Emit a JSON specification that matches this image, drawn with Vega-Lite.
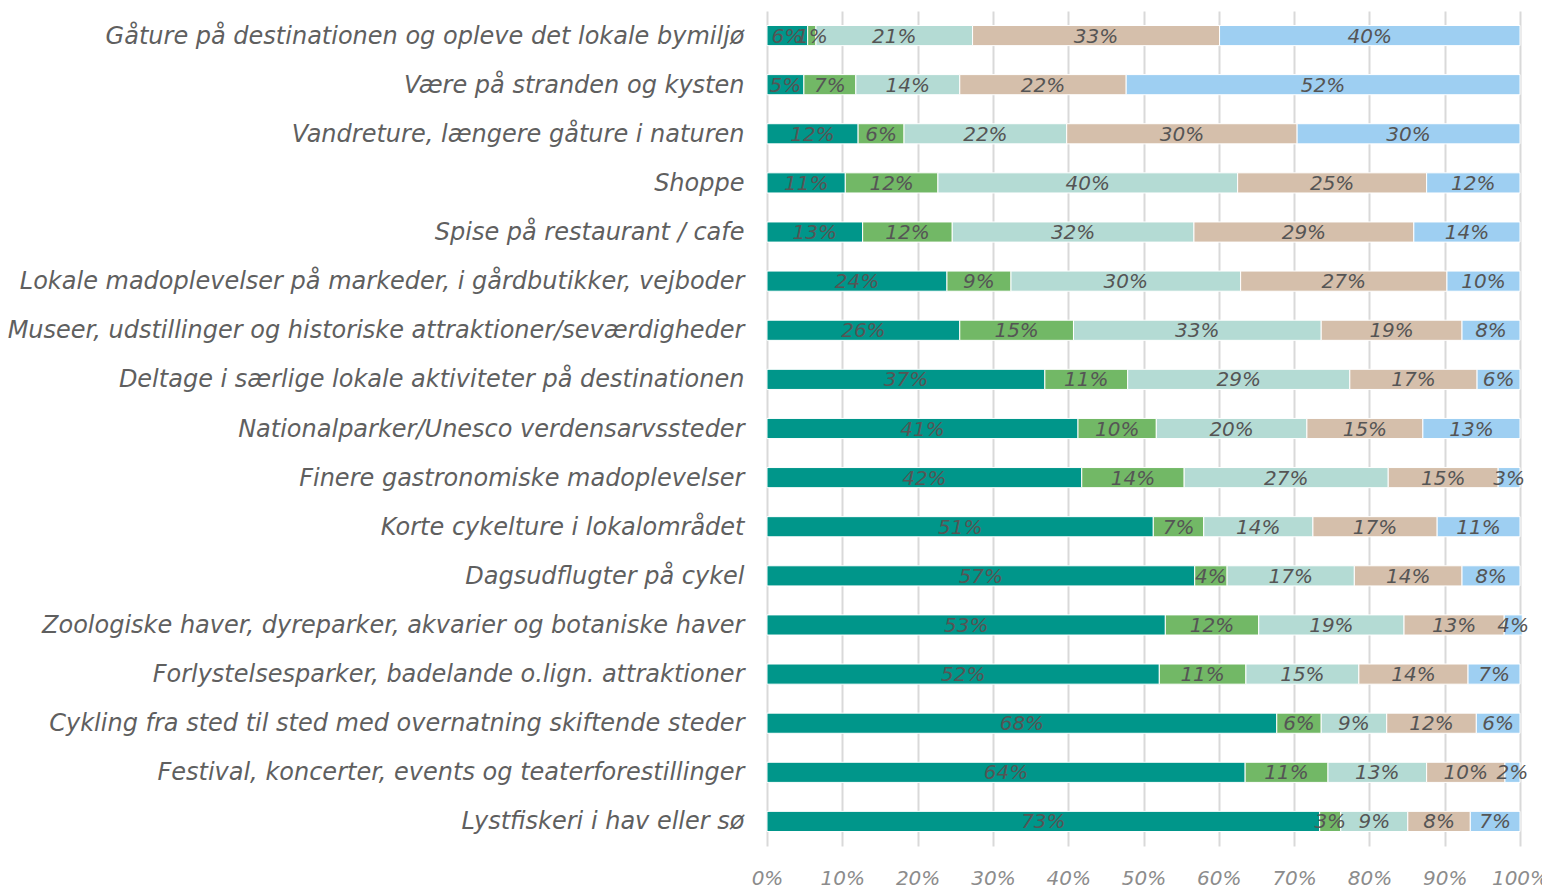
{
  "$schema": "https://vega.github.io/schema/vega-lite/v6.json",
  "autosize": "none",
  "width": 753,
  "height": 835,
  "padding": {"left": 767, "top": 11, "right": 22, "bottom": 42},
  "background": "#ffffff",
  "config": {"view": {"stroke": null}, "font": "DejaVu Sans"},
  "data": {"values": [
    {"a":"Gåture på destinationen og opleve det lokale bymiljø","c":"1","v":5.4,"l":"6%"},
    {"a":"Gåture på destinationen og opleve det lokale bymiljø","c":"2","v":1.1,"l":"1%"},
    {"a":"Gåture på destinationen og opleve det lokale bymiljø","c":"3","v":20.8,"l":"21%"},
    {"a":"Gåture på destinationen og opleve det lokale bymiljø","c":"4","v":32.8,"l":"33%"},
    {"a":"Gåture på destinationen og opleve det lokale bymiljø","c":"5","v":39.9,"l":"40%"},
    {"a":"Være på stranden og kysten","c":"1","v":4.9,"l":"5%"},
    {"a":"Være på stranden og kysten","c":"2","v":6.9,"l":"7%"},
    {"a":"Være på stranden og kysten","c":"3","v":13.8,"l":"14%"},
    {"a":"Være på stranden og kysten","c":"4","v":22.1,"l":"22%"},
    {"a":"Være på stranden og kysten","c":"5","v":52.3,"l":"52%"},
    {"a":"Vandreture, længere gåture i naturen","c":"1","v":12.1,"l":"12%"},
    {"a":"Vandreture, længere gåture i naturen","c":"2","v":6.1,"l":"6%"},
    {"a":"Vandreture, længere gåture i naturen","c":"3","v":21.6,"l":"22%"},
    {"a":"Vandreture, længere gåture i naturen","c":"4","v":30.6,"l":"30%"},
    {"a":"Vandreture, længere gåture i naturen","c":"5","v":29.6,"l":"30%"},
    {"a":"Shoppe","c":"1","v":10.4,"l":"11%"},
    {"a":"Shoppe","c":"2","v":12.3,"l":"12%"},
    {"a":"Shoppe","c":"3","v":39.8,"l":"40%"},
    {"a":"Shoppe","c":"4","v":25.1,"l":"25%"},
    {"a":"Shoppe","c":"5","v":12.4,"l":"12%"},
    {"a":"Spise på restaurant / cafe","c":"1","v":12.7,"l":"13%"},
    {"a":"Spise på restaurant / cafe","c":"2","v":11.9,"l":"12%"},
    {"a":"Spise på restaurant / cafe","c":"3","v":32.1,"l":"32%"},
    {"a":"Spise på restaurant / cafe","c":"4","v":29.2,"l":"29%"},
    {"a":"Spise på restaurant / cafe","c":"5","v":14.1,"l":"14%"},
    {"a":"Lokale madoplevelser på markeder, i gårdbutikker, vejboder","c":"1","v":23.9,"l":"24%"},
    {"a":"Lokale madoplevelser på markeder, i gårdbutikker, vejboder","c":"2","v":8.5,"l":"9%"},
    {"a":"Lokale madoplevelser på markeder, i gårdbutikker, vejboder","c":"3","v":30.5,"l":"30%"},
    {"a":"Lokale madoplevelser på markeder, i gårdbutikker, vejboder","c":"4","v":27.4,"l":"27%"},
    {"a":"Lokale madoplevelser på markeder, i gårdbutikker, vejboder","c":"5","v":9.7,"l":"10%"},
    {"a":"Museer, udstillinger og historiske attraktioner/seværdigheder","c":"1","v":25.6,"l":"26%"},
    {"a":"Museer, udstillinger og historiske attraktioner/seværdigheder","c":"2","v":15.1,"l":"15%"},
    {"a":"Museer, udstillinger og historiske attraktioner/seværdigheder","c":"3","v":32.9,"l":"33%"},
    {"a":"Museer, udstillinger og historiske attraktioner/seværdigheder","c":"4","v":18.7,"l":"19%"},
    {"a":"Museer, udstillinger og historiske attraktioner/seværdigheder","c":"5","v":7.7,"l":"8%"},
    {"a":"Deltage i særlige lokale aktiviteter på destinationen","c":"1","v":36.9,"l":"37%"},
    {"a":"Deltage i særlige lokale aktiviteter på destinationen","c":"2","v":11.0,"l":"11%"},
    {"a":"Deltage i særlige lokale aktiviteter på destinationen","c":"3","v":29.5,"l":"29%"},
    {"a":"Deltage i særlige lokale aktiviteter på destinationen","c":"4","v":16.9,"l":"17%"},
    {"a":"Deltage i særlige lokale aktiviteter på destinationen","c":"5","v":5.7,"l":"6%"},
    {"a":"Nationalparker/Unesco verdensarvssteder","c":"1","v":41.3,"l":"41%"},
    {"a":"Nationalparker/Unesco verdensarvssteder","c":"2","v":10.4,"l":"10%"},
    {"a":"Nationalparker/Unesco verdensarvssteder","c":"3","v":20.0,"l":"20%"},
    {"a":"Nationalparker/Unesco verdensarvssteder","c":"4","v":15.4,"l":"15%"},
    {"a":"Nationalparker/Unesco verdensarvssteder","c":"5","v":12.9,"l":"13%"},
    {"a":"Finere gastronomiske madoplevelser","c":"1","v":41.8,"l":"42%"},
    {"a":"Finere gastronomiske madoplevelser","c":"2","v":13.6,"l":"14%"},
    {"a":"Finere gastronomiske madoplevelser","c":"3","v":27.1,"l":"27%"},
    {"a":"Finere gastronomiske madoplevelser","c":"4","v":14.6,"l":"15%"},
    {"a":"Finere gastronomiske madoplevelser","c":"5","v":2.9,"l":"3%"},
    {"a":"Korte cykelture i lokalområdet","c":"1","v":51.3,"l":"51%"},
    {"a":"Korte cykelture i lokalområdet","c":"2","v":6.7,"l":"7%"},
    {"a":"Korte cykelture i lokalområdet","c":"3","v":14.5,"l":"14%"},
    {"a":"Korte cykelture i lokalområdet","c":"4","v":16.5,"l":"17%"},
    {"a":"Korte cykelture i lokalområdet","c":"5","v":11.0,"l":"11%"},
    {"a":"Dagsudflugter på cykel","c":"1","v":56.8,"l":"57%"},
    {"a":"Dagsudflugter på cykel","c":"2","v":4.3,"l":"4%"},
    {"a":"Dagsudflugter på cykel","c":"3","v":16.9,"l":"17%"},
    {"a":"Dagsudflugter på cykel","c":"4","v":14.3,"l":"14%"},
    {"a":"Dagsudflugter på cykel","c":"5","v":7.7,"l":"8%"},
    {"a":"Zoologiske haver, dyreparker, akvarier og botaniske haver","c":"1","v":52.9,"l":"53%"},
    {"a":"Zoologiske haver, dyreparker, akvarier og botaniske haver","c":"2","v":12.4,"l":"12%"},
    {"a":"Zoologiske haver, dyreparker, akvarier og botaniske haver","c":"3","v":19.3,"l":"19%"},
    {"a":"Zoologiske haver, dyreparker, akvarier og botaniske haver","c":"4","v":13.3,"l":"13%"},
    {"a":"Zoologiske haver, dyreparker, akvarier og botaniske haver","c":"5","v":2.4,"l":"4%"},
    {"a":"Forlystelsesparker, badelande o.lign. attraktioner","c":"1","v":52.1,"l":"52%"},
    {"a":"Forlystelsesparker, badelande o.lign. attraktioner","c":"2","v":11.5,"l":"11%"},
    {"a":"Forlystelsesparker, badelande o.lign. attraktioner","c":"3","v":15.0,"l":"15%"},
    {"a":"Forlystelsesparker, badelande o.lign. attraktioner","c":"4","v":14.5,"l":"14%"},
    {"a":"Forlystelsesparker, badelande o.lign. attraktioner","c":"5","v":6.9,"l":"7%"},
    {"a":"Cykling fra sted til sted med overnatning skiftende steder","c":"1","v":67.7,"l":"68%"},
    {"a":"Cykling fra sted til sted med overnatning skiftende steder","c":"2","v":5.9,"l":"6%"},
    {"a":"Cykling fra sted til sted med overnatning skiftende steder","c":"3","v":8.7,"l":"9%"},
    {"a":"Cykling fra sted til sted med overnatning skiftende steder","c":"4","v":11.9,"l":"12%"},
    {"a":"Cykling fra sted til sted med overnatning skiftende steder","c":"5","v":5.8,"l":"6%"},
    {"a":"Festival, koncerter, events og teaterforestillinger","c":"1","v":63.5,"l":"64%"},
    {"a":"Festival, koncerter, events og teaterforestillinger","c":"2","v":11.0,"l":"11%"},
    {"a":"Festival, koncerter, events og teaterforestillinger","c":"3","v":13.1,"l":"13%"},
    {"a":"Festival, koncerter, events og teaterforestillinger","c":"4","v":10.4,"l":"10%"},
    {"a":"Festival, koncerter, events og teaterforestillinger","c":"5","v":2.0,"l":"2%"},
    {"a":"Lystfiskeri i hav eller sø","c":"1","v":73.4,"l":"73%"},
    {"a":"Lystfiskeri i hav eller sø","c":"2","v":2.8,"l":"3%"},
    {"a":"Lystfiskeri i hav eller sø","c":"3","v":8.9,"l":"9%"},
    {"a":"Lystfiskeri i hav eller sø","c":"4","v":8.3,"l":"8%"},
    {"a":"Lystfiskeri i hav eller sø","c":"5","v":6.6,"l":"7%"}
  ]},
  "encoding": {
    "y": {
      "field": "a", "type": "nominal", "sort": null, "title": null,
      "scale": {"paddingInner": 0.59, "paddingOuter": 0.295},
      "axis": {"domain": false, "ticks": false, "labelFontSize": 24, "labelFont": "DejaVu Sans", "labelFontStyle": "italic", "labelColor": "#5f5f5f", "labelLimit": 0, "labelPadding": 23, "labelOffset": 1}
    }
  },
  "layer": [
    {
      "mark": {"type": "bar", "stroke": "#ffffff", "strokeWidth": 1},
      "encoding": {
        "x": {
          "field": "v", "type": "quantitative", "stack": "zero", "title": null,
          "scale": {"domain": [0, 100], "nice": false},
          "axis": {"values": [0,10,20,30,40,50,60,70,80,90,100], "labelExpr": "datum.value + '%'", "labelOverlap": false, "labelBound": false, "labelFlush": false, "domain": false, "ticks": false, "grid": true, "gridColor": "#d9d9d9", "gridWidth": 2, "labelFontSize": 20, "labelFont": "DejaVu Sans", "labelFontStyle": "italic", "labelColor": "#8c8c8c", "labelPadding": 22}
        },
        "color": {
          "field": "c", "type": "nominal", "legend": null,
          "scale": {"domain": ["1","2","3","4","5"], "range": ["#00968a", "#72b866", "#b4dbd4", "#d5bfab", "#9ecff2"]}
        },
        "order": {"field": "c"}
      }
    },
    {
      "mark": {"type": "text", "fontSize": 20, "font": "DejaVu Sans", "fontStyle": "italic", "color": "#555555", "align": "center", "baseline": "middle", "dy": 1},
      "encoding": {
        "x": {"field": "v", "type": "quantitative", "stack": "zero", "bandPosition": 0.5},
        "detail": {"field": "c"},
        "order": {"field": "c"},
        "text": {"field": "l"}
      }
    }
  ]
}
